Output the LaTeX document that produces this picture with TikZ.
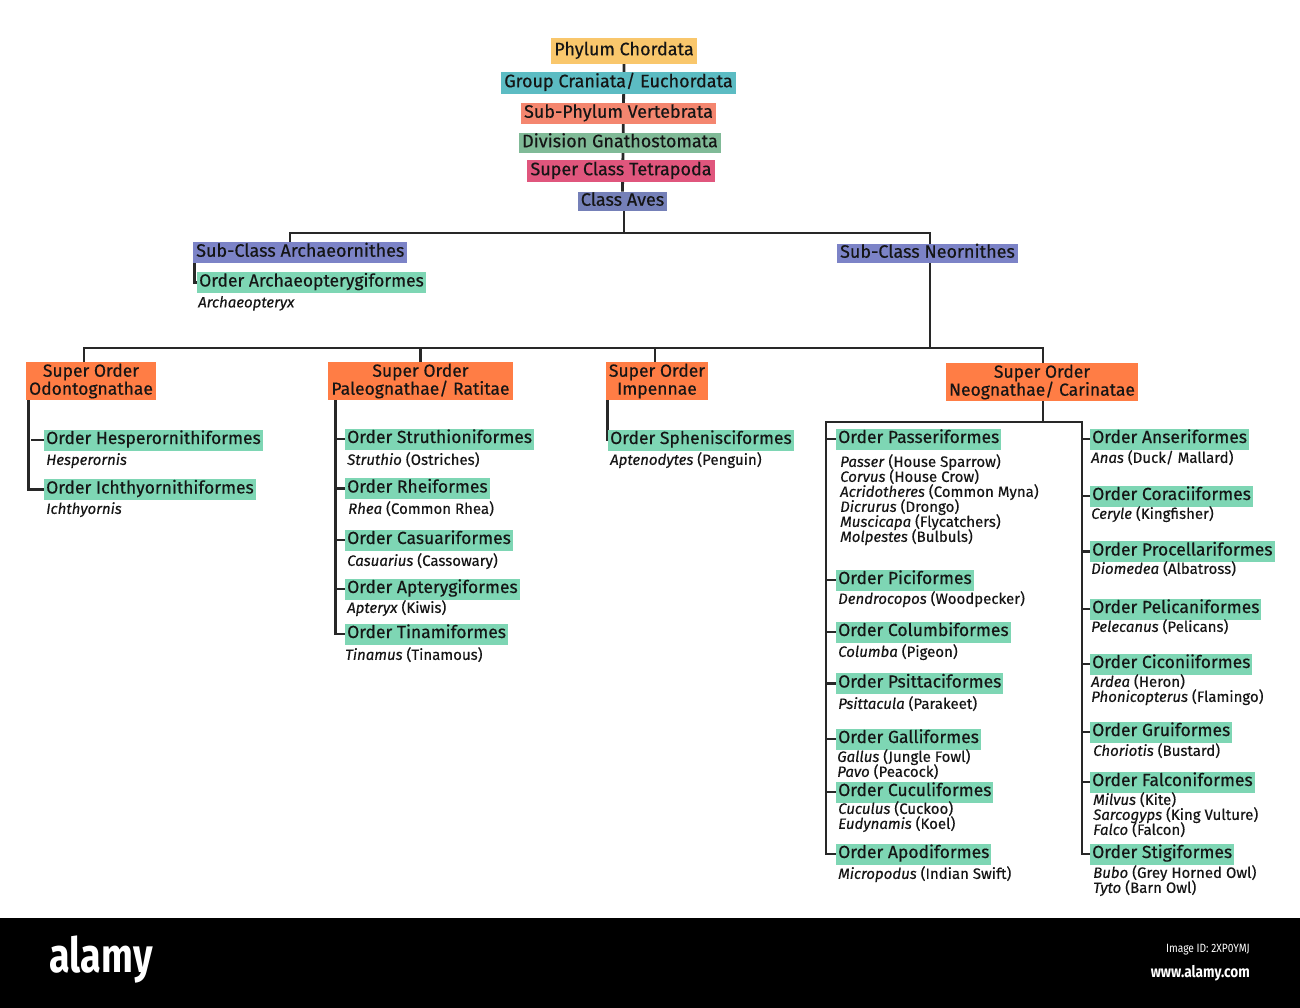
\documentclass[tikz,border=0pt]{standalone}
\usepackage{fontspec}
\setmainfont{Fira Sans}[FakeBold=0.35]
\newfontfamily\wmfont{Fira Sans}
\usetikzlibrary{backgrounds,calc}
\definecolor{cphy}{HTML}{F9C76C}
\definecolor{cgrp}{HTML}{5CBCC3}
\definecolor{csph}{HTML}{F4866F}
\definecolor{cdiv}{HTML}{80BA97}
\definecolor{cscl}{HTML}{E0567D}
\definecolor{caves}{HTML}{7580B8}
\definecolor{csub}{HTML}{7C83C7}
\definecolor{cord}{HTML}{7ED6B4}
\definecolor{csup}{HTML}{FF7D45}
\definecolor{txt}{HTML}{151515}
\definecolor{lnc}{HTML}{282828}
\newcommand\tightlines{\lineskiplimit=-10pt\relax}
\pgfdeclarelayer{bottom}
\pgfsetlayers{bottom,background,main}
\begin{document}
\begin{tikzpicture}[x=1pt,y=-1pt,
 ln/.style={draw=lnc,line width=2.8pt},
 hdr/.style={fill=#1,inner xsep=3pt,inner ysep=2.5pt,text height=12.5pt,text depth=4pt,font=\fontsize{18}{20}\selectfont,text=txt},
 sord/.style={fill=csup,align=center,inner xsep=3pt,inner ysep=1.5pt,font=\fontsize{17.5}{18}\selectfont,text=txt},
 ordb/.style={fill=cord,anchor=west,inner xsep=2pt,inner ysep=2.5pt,text height=12pt,text depth=4pt,font=\fontsize{17.5}{19}\selectfont,text=txt},
 spc/.style={anchor=north west,inner sep=0pt,align=left,font=\fontsize{15}{15}\selectfont\tightlines,text=txt}
]
\useasboundingbox (0,0) rectangle (1300,1008);
\begin{pgfonlayer}{bottom}
\fill[white] (0,0) rectangle (1300,918);
\fill[black] (0,918) rectangle (1300,1008);
\end{pgfonlayer}

% top chain
\node[hdr=cphy,minimum height=26pt] (phylum) at (624,51) {Phylum Chordata};
\node[hdr=cgrp] (group) at (618.5,83) {Group Craniata/ Euchordata};
\node[hdr=csph] (subph) at (618.5,113.5) {Sub-Phylum Vertebrata};
\node[hdr=cdiv,inner ysep=2pt] (divn) at (620,143) {Division Gnathostomata};
\node[hdr=cscl] (supcl) at (621,171) {Super Class Tetrapoda};
\node[hdr=caves,inner ysep=1.5pt] (aves) at (622.5,201.5) {Class Aves};

% sub-classes
\node[hdr=csub,anchor=west,inner ysep=2pt] (arch) at (193,252.5) {Sub-Class Archaeornithes};
\node[hdr=csub,inner ysep=1.5pt] (neo) at (927.5,253.5) {Sub-Class Neornithes};
\node[ordb] (archo) at (197,282.5) {Order Archaeopterygiformes};
\node[spc] (archs) at (198,296) {\textit{Archaeopteryx}};

% super orders
\node[sord] (odo) at (91,381) {Super Order\\Odontognathae};
\node[sord] (pal) at (420.5,381) {Super Order\\Paleognathae/ Ratitae};
\node[sord] (imp) at (657,381) {Super Order\\Impennae};
\node[sord] (neog) at (1042,382) {Super Order\\Neognathae/ Carinatae};

% Odontognathae
\node[ordb] (hesp) at (44,440) {Order Hesperornithiformes};
\node[spc] (hesps) at (46,453) {\textit{Hesperornis}};
\node[ordb] (ich) at (44,489.5) {Order Ichthyornithiformes};
\node[spc] (ichs) at (46,502) {\textit{Ichthyornis}};

% Paleognathae
\node[ordb] (str) at (345,439) {Order Struthioniformes};
\node[spc] (strs) at (347,452) {\textit{Struthio} (Ostriches)};
\node[ordb] (rhe) at (345,488.5) {Order Rheiformes};
\node[spc] (rhes) at (348,501) {\textit{Rhea} (Common Rhea)};
\node[ordb] (cas) at (345,540) {Order Casuariformes};
\node[spc] (cass) at (347,553) {\textit{Casuarius} (Cassowary)};
\node[ordb] (apt) at (345,589) {Order Apterygiformes};
\node[spc] (apts) at (347,600) {\textit{Apteryx} (Kiwis)};
\node[ordb] (tin) at (345,634) {Order Tinamiformes};
\node[spc] (tins) at (345,647) {\textit{Tinamus} (Tinamous)};

% Impennae
\node[ordb] (sph) at (608,440) {Order Sphenisciformes};
\node[spc] (sphs) at (610,452) {\textit{Aptenodytes} (Penguin)};

% Neognathae left
\node[ordb] (pas) at (836,439) {Order Passeriformes};
\node[spc] (pass) at (840,454) {\textit{Passer} (House Sparrow)\\\textit{Corvus} (House Crow)\\\textit{Acridotheres} (Common Myna)\\\textit{Dicrurus} (Drongo)\\\textit{Muscicapa} (Flycatchers)\\\textit{Molpestes} (Bulbuls)};
\node[ordb] (pic) at (836,580) {Order Piciformes};
\node[spc] (pics) at (838,591) {\textit{Dendrocopos} (Woodpecker)};
\node[ordb] (col) at (836,632) {Order Columbiformes};
\node[spc] (cols) at (838,644) {\textit{Columba} (Pigeon)};
\node[ordb] (psi) at (836,683.5) {Order Psittaciformes};
\node[spc] (psis) at (838,696) {\textit{Psittacula} (Parakeet)};
\node[ordb] (gal) at (836,739) {Order Galliformes};
\node[spc] (gals) at (837,749) {\textit{Gallus} (Jungle Fowl)\\\textit{Pavo} (Peacock)};
\node[ordb] (cuc) at (836,792) {Order Cuculiformes};
\node[spc] (cucs) at (838,801) {\textit{Cuculus} (Cuckoo)\\\textit{Eudynamis} (Koel)};
\node[ordb] (apo) at (836,854) {Order Apodiformes};
\node[spc] (apos) at (838,866) {\textit{Micropodus} (Indian Swift)};

% Neognathae right
\node[ordb] (ans) at (1090,439) {Order Anseriformes};
\node[spc] (anss) at (1091,450) {\textit{Anas} (Duck/ Mallard)};
\node[ordb] (cor) at (1090,496) {Order Coraciiformes};
\node[spc] (cors) at (1091,506) {\textit{Ceryle} (Kingfisher)};
\node[ordb] (pro) at (1090,551.5) {Order Procellariformes};
\node[spc] (pros) at (1091,561) {\textit{Diomedea} (Albatross)};
\node[ordb] (pel) at (1090,609) {Order Pelicaniformes};
\node[spc] (pels) at (1091,619) {\textit{Pelecanus} (Pelicans)};
\node[ordb] (cic) at (1090,664) {Order Ciconiiformes};
\node[spc] (cics) at (1091,674) {\textit{Ardea} (Heron)\\\textit{Phonicopterus} (Flamingo)};
\node[ordb] (gru) at (1090,732) {Order Gruiformes};
\node[spc] (grus) at (1093,743) {\textit{Choriotis} (Bustard)};
\node[ordb] (fal) at (1090,782) {Order Falconiformes};
\node[spc] (fals) at (1093,792) {\textit{Milvus} (Kite)\\\textit{Sarcogyps} (King Vulture)\\\textit{Falco} (Falcon)};
\node[ordb] (sti) at (1090,854) {Order Stigiformes};
\node[spc] (stis) at (1093,865) {\textit{Bubo} (Grey Horned Owl)\\\textit{Tyto} (Barn Owl)};

% watermark
\node[text=white,font=\wmfont\bfseries\fontsize{46}{50}\selectfont,inner sep=0pt] (alamy) at (101,960) {\scalebox{0.82}[1.05]{alamy}};
\node[text=white,font=\wmfont\fontsize{12}{14}\selectfont,anchor=east,inner sep=0pt] (imgid) at (1250,950) {\scalebox{0.85}[1]{Image ID: 2XP0YMJ}};
\node[text=white,font=\wmfont\bfseries\fontsize{16}{18}\selectfont,anchor=east,inner sep=0pt] (www) at (1250,973) {\scalebox{0.85}[1]{www.alamy.com}};

\coordinate (b1L) at (290,233);
\coordinate (b1R) at (930,233);
\coordinate (b2L) at (84,348);
\coordinate (b2R) at (1043,348);
\coordinate (nL) at (826,422);
\coordinate (nR) at (1082,422);

\begin{pgfonlayer}{background}
\draw[ln] (phylum.south) -- (aves.north);
\draw[ln] (aves.south -| phylum.south) -- (b1L -| phylum.south);
\draw[ln] (arch.north -| b1L) -- (b1L) -- (b1R) -- (neo.north -| b1R);
\draw[ln] ([xshift=1.5pt]arch.south west) |- (archo.west);
\draw[ln] (neo.south -| b1R) -- (b1R |- b2L);
\draw[ln] (odo.north -| b2L) -- (b2L) -- (b2R) -- (neog.north -| b2R);
\draw[ln] (pal.north) -- (pal.north |- b2L);
\draw[ln] (imp.north -| 655,0) -- (b2L -| 655,0);
% odontognathae
\draw[ln] ([xshift=3pt]odo.south west) |- (ich.west);
\draw[ln] (hesp.west) -- ++(-13,0);
% paleognathae
\draw[ln] ([xshift=7pt]pal.south west) |- (tin.west);
\foreach \n in {str,rhe,cas,apt} \draw[ln] (\n.west) -- ++(-10,0);
% impennae
\draw[ln] ([xshift=1.5pt]imp.south west) |- (sph.west);
% neognathae
\draw[ln] (neog.south -| b2R) -- (nL -| b2R);
\draw[ln] (apo.west) -| (nL) -- (nR) |- (sti.west);
\foreach \n in {pas,pic,col,psi,gal,cuc} \draw[ln] (\n.west) -- (\n.west -| nL);
\foreach \n in {ans,cor,pro,pel,cic,gru,fal} \draw[ln] (\n.west) -- (\n.west -| nR);
\end{pgfonlayer}
\end{tikzpicture}
\end{document}
